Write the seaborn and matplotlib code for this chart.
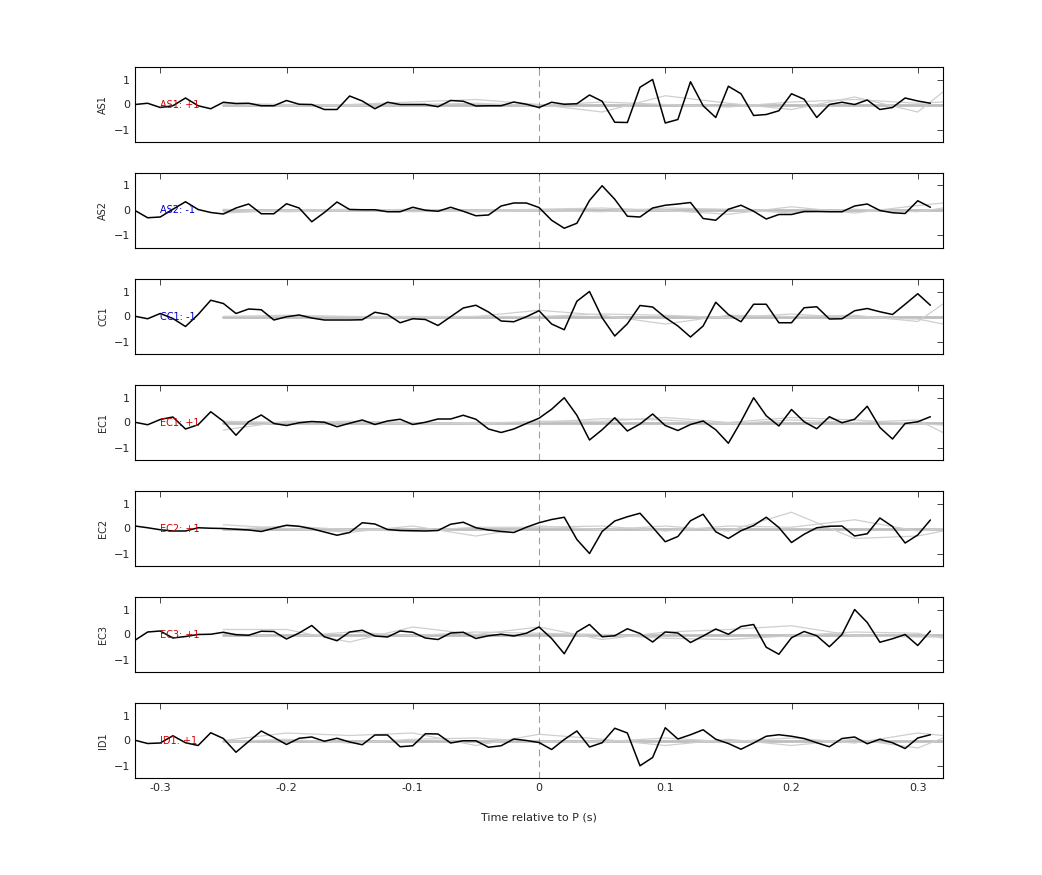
import numpy as np
import pandas as pd
import matplotlib
matplotlib.use("Agg")
import matplotlib.pyplot as plt
import seaborn as sns

sns.set_theme(style="white")
plt.rcParams['font.family'] = ['DejaVu Sans']

time = np.round(np.arange(-0.32, 0.315, 0.01), 2)
gray_time = [-0.25, -0.2, -0.15, -0.1, -0.05, 0.0, 0.05, 0.1, 0.15, 0.2, 0.25, 0.3, 0.32]

channels = ["AS1", "AS2", "CC1", "EC1", "EC2", "EC3", "ID1"]
signs = ["+1", "-1", "-1", "+1", "+1", "+1", "+1"]

AS1 = [0,.05,-.12,-.05,.26,-.05,-.17,.09,.04,.05,-.05,-.05,.16,.01,0,-.2,-.2,.34,.14,-.17,
       .09,0,0,0,-.09,.16,.13,-.06,-.05,-.05,.1,.01,-.12,.09,.01,.03,.38,.13,-.71,-.72,
       .69,1.0,-.74,-.6,.91,-.05,-.52,.73,.43,-.44,-.4,-.25,.43,.21,-.52,0,.09,0,.18,-.2,
       -.12,.26,.14,.05]
AS2 = [0,-.29,-.26,.05,.35,.04,-.08,-.14,.1,.26,-.13,-.13,.27,.1,-.45,-.08,.34,.04,.03,.03,
       -.05,-.05,.13,.01,-.03,.13,-.03,-.21,-.18,.18,.3,.3,.12,-.39,-.71,-.51,.4,.99,.45,-.23,
       -.26,.1,.21,.26,.32,-.32,-.39,.05,.21,-.03,-.34,-.16,-.16,-.04,-.04,-.05,-.05,.18,.26,0,
       -.09,-.12,.39,.13]
CC1 = [.01,-.09,.12,-.08,-.4,.08,.65,.52,.12,.3,.27,-.14,-.01,.06,-.06,-.14,-.14,-.14,-.13,.17,
       .08,-.25,-.09,-.12,-.36,-.01,.34,.45,.18,-.18,-.21,-.01,.23,-.3,-.53,.61,1.0,-.05,-.78,-.29,
       .44,.38,-.04,-.38,-.82,-.38,.57,.08,-.21,.49,.49,-.25,-.25,.35,.39,-.1,-.09,.23,.32,.19,
       .08,.49,.91,.45]
EC1 = [.01,-.09,.12,.22,-.26,-.09,.43,.05,-.51,.03,.3,-.04,-.12,-.01,.04,.01,-.17,-.03,.1,-.08,
       .06,.13,-.08,.01,.14,.14,.29,.13,-.26,-.4,-.26,-.04,.17,.53,.99,.29,-.7,-.29,.19,-.34,
       -.06,.34,-.12,-.32,-.08,.06,-.29,-.83,.04,.99,.27,-.14,.52,.03,-.25,.23,-.01,.13,.65,-.2,
       -.66,-.04,.03,.23]
EC2 = [.1,.03,-.05,-.1,-.1,.03,.01,0,-.03,-.06,-.12,.01,.13,.09,-.01,-.14,-.27,-.16,.23,.18,
       -.04,-.08,-.09,-.1,-.08,.17,.25,.03,-.06,-.12,-.16,.05,.23,.36,.45,-.44,-1.0,-.12,.3,.47,
       .61,.05,-.53,-.32,.31,.57,-.13,-.4,-.09,.12,.45,.04,-.56,-.23,.03,.09,.1,-.3,-.21,.42,
       .08,-.58,-.26,.34]
EC3 = [-.23,.1,.14,-.14,-.08,0,.01,.09,-.01,-.03,.13,.12,-.18,.06,.36,-.09,-.25,.1,.17,-.06,
       -.1,.14,.09,-.14,-.2,.06,.09,-.16,-.05,.01,-.06,.05,.3,-.16,-.77,.1,.4,-.09,-.05,.23,
       .04,-.3,.1,.06,-.32,-.06,.22,.01,.32,.4,-.51,-.79,-.13,.12,-.05,-.49,0,1.0,.48,-.31,
       -.17,0,-.44,.14]
ID1 = [.01,-.12,-.1,.19,-.09,-.2,.31,.08,-.47,-.04,.38,.12,-.16,.09,.14,-.03,.09,-.06,-.17,.22,
       .22,-.25,-.21,.27,.26,-.1,-.01,-.01,-.27,-.21,.06,0,-.08,-.36,.04,.38,-.26,-.09,.49,.3,
       -1.01,-.68,.51,.06,.23,.43,.05,-.12,-.35,-.1,.17,.23,.17,.08,-.09,-.25,.08,.14,-.13,.05,
       -.09,-.32,.1,.23]
black = [AS1, AS2, CC1, EC1, EC2, EC3, ID1]

gray_AS1 = [[0,0,0,0,0,0,0,0,0,0,0,0,0],
            [0,-.05,0,.1,.2,0,-.3,.35,.05,-.2,.3,-.3,.5],
            [.05,0,-.05,0,.05,-.05,.1,0,-.1,.1,.2,.05,.1]]
gray_AS2 = [[0,0,0,0,0,0,0,0,0,0,0,0,0],
            [-.1,0,.05,-.05,0,.05,.1,0,-.15,.15,-.1,.2,.3],
            [.05,-.05,0,.05,-.05,0,-.05,.1,.05,-.1,.05,-.05,.1]]
gray_CC1 = [[0,0,0,0,0,0,0,0,0,0,0,0,0],
            [0,0,0,0,0,.25,.05,-.3,.05,0,.05,-.2,.5],
            [0,.05,0,-.05,0,0,.1,.05,-.05,.1,-.05,-.1,-.3]]
gray_EC1 = [[0,0,0,0,0,0,0,0,0,0,0,0,0],
            [-.3,.05,0,-.05,0,0,.15,.1,-.05,.1,0,.1,-.4],
            [.05,0,.05,0,-.05,.05,.05,.2,0,.2,.1,-.05,-.1]]
gray_EC2 = [[0,0,0,0,0,0,0,0,0,0,0,0,0],
            [.15,0,-.15,.1,-.3,.1,-.05,.1,-.1,.65,-.4,-.3,-.1],
            [-.05,.1,-.05,-.1,.05,.05,.1,-.1,.1,.05,.35,-.1,0]]
gray_EC3 = [[0,0,0,0,0,0,0,0,0,0,0,0,0],
            [.2,.2,-.3,.3,0,.3,-.2,.1,.2,.35,-.05,-.1,-.1],
            [.05,-.1,.1,-.05,.1,.05,0,-.15,-.2,-.05,.1,.05,-.15]]
gray_ID1 = [[0,0,0,0,0,0,0,0,0,0,0,0,0],
            [0,.3,.2,.3,-.2,.25,.05,-.2,.05,-.2,.05,-.3,.1],
            [-.05,.05,-.1,.05,.1,-.05,-.05,.1,-.05,.1,-.1,.3,.2]]
grays = [gray_AS1, gray_AS2, gray_CC1, gray_EC1, gray_EC2, gray_EC3, gray_ID1]

W, H = 1042, 875
fig = plt.figure(figsize=(W/100, H/100), dpi=100)
left, right = 135/W, 943/W
for i, ch in enumerate(channels):
    top = 67 + 106*i
    bot = 142 + 106*i
    ax = fig.add_axes([left, 1-bot/H, right-left, (bot-top)/H])
    for j, g in enumerate(grays[i]):
        ax.plot(gray_time, g, color='#bdbdbd' if j == 0 else '#cfcfcf',
                lw=2.0 if j == 0 else 0.9, zorder=1)
    df = pd.DataFrame({"t": time, "v": black[i]})
    sns.lineplot(data=df, x="t", y="v", ax=ax, color='black', lw=1.1, zorder=3)
    ax.axvline(0, color='#e08080', ls=(0, (6, 4)), lw=0.8, zorder=2)
    col = '#d00000' if signs[i] == "+1" else '#0000cc'
    ax.text(-0.30, 0, f"{ch}: {signs[i]}", color=col, fontsize=7, va='center', ha='left', zorder=4)
    ax.set_xlim(-0.32, 0.32)
    ax.set_ylim(-1.5, 1.5)
    ax.set_yticks([-1, 0, 1])
    ax.set_xticks([-0.3, -0.2, -0.1, 0, 0.1, 0.2, 0.3])
    ax.tick_params(direction='in', length=4, labelsize=8, top=True, right=True, width=0.6)
    ax.set_ylabel(ch, fontsize=7)
    for s in ax.spines.values():
        s.set_linewidth(0.8)
        s.set_color('black')
    if i < len(channels)-1:
        ax.set_xticklabels([])
        ax.set_xlabel("")
    else:
        ax.set_xticklabels(["-0.3", "-0.2", "-0.1", "0", "0.1", "0.2", "0.3"])
        ax.set_xlabel("Time relative to P (s)", fontsize=8, labelpad=14)

fig.savefig("out.png", dpi=100)
